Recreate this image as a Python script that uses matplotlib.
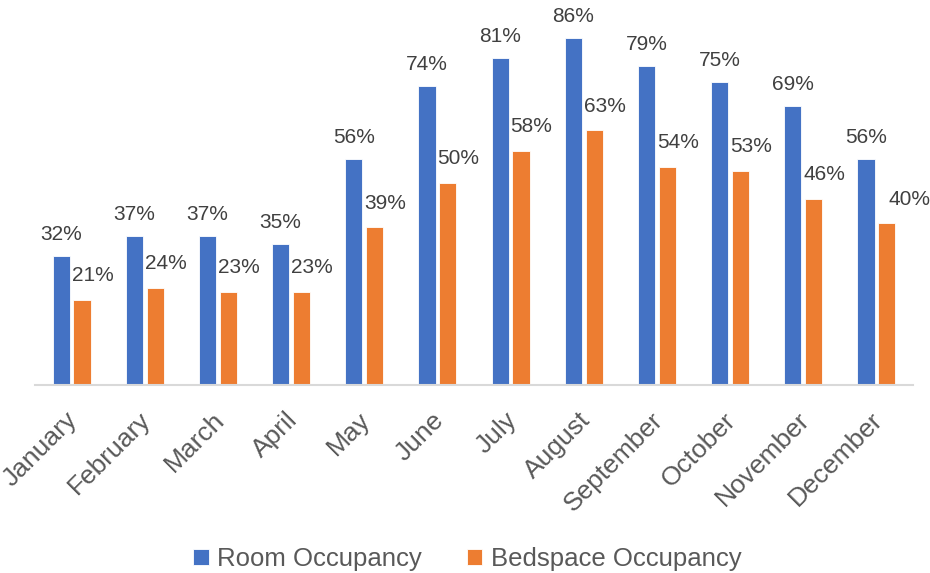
import matplotlib.pyplot as plt
import matplotlib.transforms as mtransforms
import numpy as np

months = ['January', 'February', 'March', 'April', 'May', 'June',
          'July', 'August', 'September', 'October', 'November', 'December']
room = [32, 37, 37, 35, 56, 74, 81, 86, 79, 75, 69, 56]
bedspace = [21, 24, 23, 23, 39, 50, 58, 63, 54, 53, 46, 40]

blue = '#4472C4'
orange = '#ED7D31'

fig = plt.figure(figsize=(9.3, 5.73), dpi=100)
ax = fig.add_axes([35 / 930, 188 / 573, 878 / 930, 385 / 573])

x = np.arange(len(months))
w = 0.235
b1 = ax.bar(x - 0.143, room, w, color=blue, edgecolor='white', linewidth=0.6,
            label='Room Occupancy')
b2 = ax.bar(x + 0.143, bedspace, w, color=orange, edgecolor='white', linewidth=0.6,
            label='Bedspace Occupancy')

# подписи значений
for rect, v in zip(b1, room):
    ax.annotate(f'{v}%', (rect.get_x() + rect.get_width() / 2, v),
                xytext=(0, 11.5), textcoords='offset points',
                ha='center', va='baseline', fontsize=15, color='#404040',
                family='Liberation Sans')
for i, (rect, v) in enumerate(zip(b2, bedspace)):
    dx = 16 if i == len(bedspace) - 1 else 7.5
    ax.annotate(f'{v}%', (rect.get_x() + rect.get_width() / 2, v),
                xytext=(dx, 13.5), textcoords='offset points',
                ha='center', va='baseline', fontsize=15, color='#404040',
                family='Liberation Sans')

ax.set_xlim(-0.5, len(months) - 0.5)
ax.set_ylim(0, 95.3)
ax.set_yticks([])
for s in ['top', 'right', 'left']:
    ax.spines[s].set_visible(False)
ax.spines['bottom'].set_color('#D9D9D9')
ax.spines['bottom'].set_linewidth(1.5)

ax.set_xticks(x)
ax.set_xticklabels(months, rotation=45, ha='right', rotation_mode='anchor',
                   fontsize=19, color='#595959', family='Liberation Sans')
ax.tick_params(axis='x', length=0, pad=10)
shift = mtransforms.ScaledTranslation(-0.06, -0.09, fig.dpi_scale_trans)
for lbl in ax.get_xticklabels():
    lbl.set_transform(lbl.get_transform() + shift)

leg = fig.legend(handles=[b1, b2], loc='center', bbox_to_anchor=(467 / 930, 1 - 559 / 573),
                 ncol=2, frameon=False, handlelength=0.62, handleheight=0.62,
                 handletextpad=0.32, columnspacing=1.75,
                 prop={'family': 'Liberation Sans', 'size': 18.5})
for t in leg.get_texts():
    t.set_color('#595959')

fig.savefig('out.png', dpi=100)
